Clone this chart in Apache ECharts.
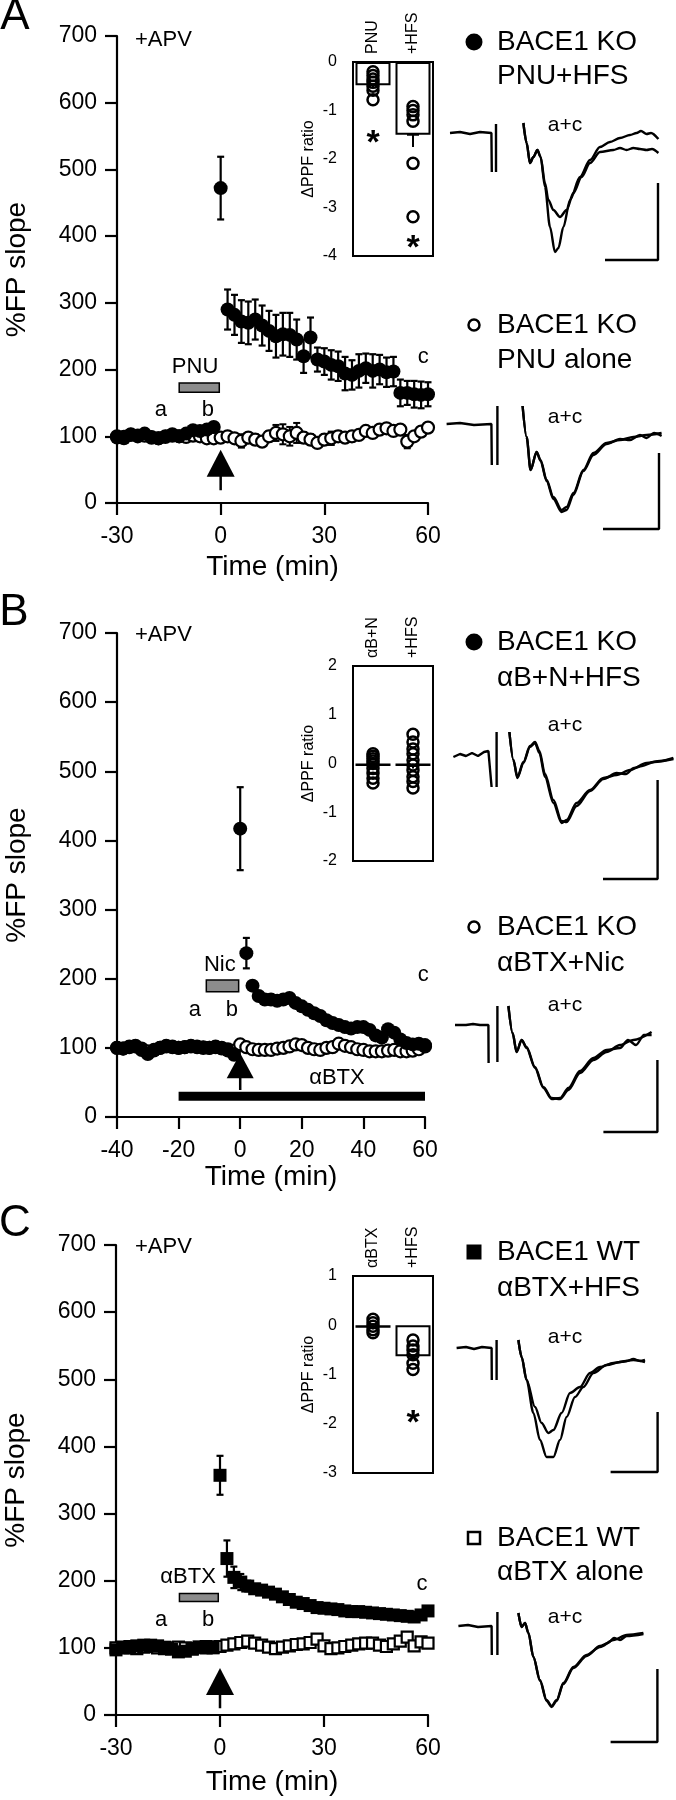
<!DOCTYPE html>
<html><head><meta charset="utf-8">
<script src="https://cdn.jsdelivr.net/npm/echarts@6.0.0/dist/echarts.min.js"></script>
<style>html,body{margin:0;padding:0;background:#fff}#c{width:676px;height:1800px}</style>
</head><body><div id="c"></div>
<script>
// ================= DATA =================
// Panel A (time in min, %FP slope)
const timeA = [-30,-28,-26,-24,-22,-20,-18,-16,-14,-12,-10,-8,-6,-4,-2,0,2,4,6,8,10,12,14,16,18,20,22,24,26,28,30,32,34,36,38,40,42,44,46,48,50,52,54,56,58,60];
const koPnuHfs = [98,97,103,101,104,99,97,100,103,100,104,109,108,110,114,472,290,282,272,270,275,266,258,250,253,252,245,220,248,215,212,207,205,194,192,198,202,198,200,196,197,165,165,163,162,163];
const koPnuHfsErr = [4,4,5,5,5,4,4,5,5,5,5,6,6,6,6,47,30,30,32,32,30,30,30,32,32,33,30,25,30,18,20,22,22,25,22,25,22,25,22,22,22,20,18,20,20,18];
const koPnuAlone = [100,99,102,100,101,98,97,99,101,100,99,101,100,97,97,98,100,97,93,98,95,92,100,105,103,100,105,98,95,90,95,97,100,98,100,102,108,105,110,112,108,110,92,100,107,113];
const koPnuAloneErr = [4,4,4,4,4,4,4,4,4,4,4,4,4,4,4,5,5,6,10,6,8,6,8,12,15,14,15,8,8,6,8,10,8,6,8,6,5,6,5,5,6,5,10,6,5,5];
// Panel B
const timeB = [-40,-38,-36,-34,-32,-30,-28,-26,-24,-22,-20,-18,-16,-14,-12,-10,-8,-6,-4,-2,0,2,4,6,8,10,12,14,16,18,20,22,24,26,28,30,32,34,36,38,40,42,44,46,48,50,52,54,56,58,60];
const koBtxNicHfs = [100,99,102,103,97,91,96,100,103,102,100,101,103,102,101,100,102,99,96,90,417,237,190,175,170,170,168,170,172,165,160,155,150,146,140,136,133,130,128,130,130,126,118,115,127,122,112,107,105,106,104];
const koBtxNicHfsErr = [3,3,3,3,3,3,3,3,3,3,3,3,3,3,3,3,3,3,3,3,60,22,5,4,4,4,4,4,4,4,4,4,4,4,4,4,4,4,4,4,4,4,4,4,4,4,4,4,4,4,4];
const koBtxNic = [100,99,101,102,99,95,97,100,102,101,100,101,102,101,100,100,101,100,98,96,105,101,98,97,97,97,99,100,102,105,104,100,98,97,100,101,106,103,101,98,97,95,95,95,96,97,95,95,96,98,102];
const koBtxNicErr = [3,3,3,3,3,3,3,3,3,3,3,3,3,3,3,3,3,3,3,3,3,3,3,3,3,3,3,3,3,3,3,3,3,3,3,3,3,3,3,3,3,3,3,3,3,3,3,3,3,3,3];
// Panel C
const timeC = [-30,-28,-26,-24,-22,-20,-18,-16,-14,-12,-10,-8,-6,-4,-2,0,2,4,6,8,10,12,14,16,18,20,22,24,26,28,30,32,34,36,38,40,42,44,46,48,50,52,54,56,58,60];
const wtBtxHfs = [97,100,102,103,104,104,103,101,98,94,95,98,101,102,100,357,233,205,198,192,188,186,183,180,176,172,168,166,163,160,159,158,157,155,154,154,153,152,151,150,149,148,147,146,149,155];
const wtBtxHfsErr = [3,3,3,3,3,3,3,3,3,3,3,3,3,3,3,29,27,16,12,8,5,4,4,4,4,4,4,4,4,4,4,4,4,4,4,4,4,4,4,4,4,4,4,4,4,4];
const wtBtxAlone = [100,101,100,99,101,102,100,99,100,101,100,99,101,100,101,102,104,106,108,110,107,104,101,99,101,103,105,106,108,113,103,99,100,102,104,106,107,107,104,102,106,110,116,103,109,107];
const wtBtxAloneErr = [3,3,3,3,3,3,3,3,3,3,3,3,3,3,3,3,3,3,3,3,3,3,3,3,3,3,3,3,3,3,3,3,3,3,3,3,3,3,3,3,3,3,3,3,3,3];

// Drug application (min)
const pnuBar = [-12, -0.4];
const nicBar = [-11, -0.5];
const btxShortBar = [-11.7, -0.5];
const btxLongBar = [-20, 60];
const hfsTime = 0;

// Inset ΔPPF ratio
const insetCatsA = ['PNU', '+HFS'];
const insetMeanA = [-0.48, -1.5];
const insetSemA = [0.05, 0.25];
const insetPtsA = [[-0.2,-0.28,-0.35,-0.42,-0.5,-0.58,-0.78],[-0.92,-1.0,-1.09,-1.22,-2.09,-3.19]];
const insetStarA = [-1.54, -3.7];
const insetCatsB = ['αB+N', '+HFS'];
const insetMeanB = [-0.05, -0.05];
const insetSemB = [0.05, 0.05];
const insetPtsB = [[0.2,0.15,0.1,0.05,0,-0.1,-0.2,-0.3,-0.4],[0.6,0.44,0.3,0.2,0.07,-0.03,-0.14,-0.27,-0.37,-0.5]];
const insetStarB = [null, null];
const insetCatsC = ['αBTX', '+HFS'];
const insetMeanC = [-0.05, -0.63];
const insetSemC = [0.03, 0.08];
const insetPtsC = [[0.12,0.05,-0.02,-0.09,-0.15],[-0.3,-0.42,-0.5,-0.6,-0.77,-0.9]];
const insetStarC = [null, -1.85];

// Field potential traces (ms, mV), "a" and "c" superimposed
const trA1pre = [[0,0],[0.5,0.01],[1.0,-0.01],[1.5,0.01],[2.07,0],[2.09,-0.39]];
const trA1art = [[2.3,0.09],[2.3,-0.39]];
const trA1a = [[3.67,0.10],[3.83,-0.10],[4.0,-0.30],[4.17,-0.24],[4.37,-0.17],[4.53,-0.24],[4.75,-0.54],[5.0,-0.94],[5.25,-1.19],[5.42,-1.15],[5.67,-0.94],[6.0,-0.67],[6.5,-0.44],[7.0,-0.27],[7.5,-0.14],[8.0,-0.09],[8.5,-0.05],[9.0,-0.02],[9.33,0.0],[9.55,0.02],[9.83,-0.01],[10.05,0.0],[10.42,-0.06]];
const trA1c = [[3.67,0.10],[3.83,-0.10],[4.0,-0.30],[4.17,-0.24],[4.37,-0.17],[4.53,-0.24],[4.75,-0.50],[4.92,-0.67],[5.17,-0.77],[5.5,-0.84],[5.83,-0.77],[6.17,-0.60],[6.58,-0.44],[7.0,-0.30],[7.5,-0.19],[8.17,-0.17],[8.5,-0.15],[8.83,-0.17],[9.17,-0.15],[9.5,-0.16],[9.83,-0.17],[10.1,-0.16],[10.42,-0.20]];
const trA1scale = [[7.75,-1.27],[10.4,-1.27],[10.4,-0.5]];
const trA2pre = [[-0.17,0],[0.5,0.01],[1.2,-0.01],[2.07,0],[2.09,-0.41]];
const trA2art = [[2.37,0.18],[2.37,-0.41]];
const trA2a = [[3.63,0.18],[3.83,-0.13],[4.03,-0.46],[4.33,-0.28],[4.53,-0.36],[4.83,-0.56],[5.17,-0.73],[5.58,-0.86],[5.83,-0.83],[6.17,-0.69],[6.67,-0.46],[7.17,-0.29],[7.83,-0.19],[8.5,-0.16],[9.17,-0.13],[9.83,-0.11],[10.58,-0.09]];
const trA2c = [[3.63,0.18],[3.83,-0.13],[4.03,-0.46],[4.33,-0.28],[4.53,-0.37],[4.83,-0.57],[5.17,-0.75],[5.58,-0.88],[5.83,-0.86],[6.17,-0.71],[6.67,-0.47],[7.17,-0.31],[7.83,-0.2],[8.5,-0.15],[9.0,-0.16],[9.5,-0.11],[9.83,-0.14],[10.2,-0.09],[10.58,-0.12]];
const trA2scale = [[7.65,-1.05],[10.45,-1.05],[10.45,-0.29]];
const trB1pre = [[0.17,-0.03],[0.5,0.0],[0.8,-0.02],[1.1,0.01],[1.4,-0.02],[1.7,0.02],[1.92,0.03],[2.08,-0.33]];
const trB1art = [[2.33,0.22],[2.33,-0.33]];
const trB1a = [[2.97,0.22],[3.17,-0.06],[3.37,-0.24],[3.67,-0.09],[4.0,0.07],[4.25,0.11],[4.47,0.01],[4.75,-0.23],[5.17,-0.49],[5.58,-0.69],[5.83,-0.66],[6.33,-0.49],[7.0,-0.36],[7.67,-0.24],[8.33,-0.21],[9.0,-0.16],[9.83,-0.09],[10.5,-0.07],[11.17,-0.04]];
const trB1c = [[2.97,0.22],[3.17,-0.06],[3.37,-0.23],[3.67,-0.08],[4.0,0.08],[4.25,0.12],[4.47,0.03],[4.75,-0.2],[5.17,-0.46],[5.58,-0.67],[5.83,-0.68],[6.33,-0.52],[7.0,-0.37],[7.67,-0.25],[8.33,-0.19],[8.8,-0.2],[9.2,-0.14],[9.6,-0.12],[10.2,-0.08],[11.17,-0.05]];
const trB1scale = [[7.65,-1.25],[10.38,-1.25],[10.38,-0.26]];
const trB2pre = [[0.25,0],[0.8,0.0],[1.15,0.01],[1.5,0.0],[1.92,0],[1.93,-0.38]];
const trB2art = [[2.37,0.19],[2.37,-0.37]];
const trB2a = [[2.92,0.19],[3.13,-0.08],[3.33,-0.27],[3.58,-0.15],[3.83,-0.22],[4.25,-0.42],[4.67,-0.62],[5.08,-0.73],[5.5,-0.74],[5.92,-0.65],[6.5,-0.48],[7.17,-0.35],[7.83,-0.27],[8.5,-0.2],[9.17,-0.15],[10.08,-0.07]];
const trB2c = [[2.92,0.19],[3.13,-0.08],[3.33,-0.27],[3.58,-0.15],[3.83,-0.23],[4.25,-0.43],[4.67,-0.63],[5.08,-0.74],[5.5,-0.73],[5.92,-0.63],[6.5,-0.46],[7.17,-0.33],[7.83,-0.25],[8.5,-0.23],[8.9,-0.15],[9.3,-0.2],[9.7,-0.1],[10.08,-0.1]];
const trB2scale = [[7.67,-1.07],[10.37,-1.07],[10.37,-0.35]];
const trC1pre = [[0.33,0],[0.8,0.01],[1.2,-0.01],[1.6,0.01],[2.08,0],[2.09,-0.32]];
const trC1art = [[2.33,0.08],[2.33,-0.32]];
const trC1a = [[3.42,0.08],[3.58,-0.09],[3.83,-0.32],[4.17,-0.65],[4.5,-0.92],[4.83,-1.09],[5.17,-1.09],[5.5,-0.92],[5.83,-0.69],[6.25,-0.49],[6.67,-0.39],[7.17,-0.25],[7.83,-0.17],[8.5,-0.14],[9.17,-0.12],[9.75,-0.14]];
const trC1c = [[3.42,0.08],[3.58,-0.09],[3.83,-0.32],[4.25,-0.59],[4.58,-0.75],[4.92,-0.85],[5.17,-0.82],[5.58,-0.65],[6.0,-0.45],[6.5,-0.39],[7.0,-0.25],[7.5,-0.19],[8.17,-0.15],[8.83,-0.13],[9.17,-0.11],[9.5,-0.13],[9.75,-0.12]];
const trC1scale = [[8.03,-1.24],[10.38,-1.24],[10.38,-0.64]];
const trC2pre = [[0.42,0],[0.9,0.01],[1.4,-0.01],[2.08,0],[2.09,-0.29]];
const trC2art = [[2.37,0.14],[2.37,-0.29]];
const trC2a = [[3.42,0.13],[3.58,-0.01],[3.75,0.03],[3.92,-0.07],[4.17,-0.31],[4.5,-0.54],[4.83,-0.74],[5.08,-0.8],[5.33,-0.74],[5.67,-0.57],[6.17,-0.41],[6.83,-0.29],[7.5,-0.21],[8.17,-0.14],[8.83,-0.09],[9.67,-0.07]];
const trC2c = [[3.42,0.13],[3.58,-0.01],[3.75,0.03],[3.92,-0.07],[4.17,-0.31],[4.5,-0.55],[4.83,-0.75],[5.08,-0.81],[5.33,-0.75],[5.67,-0.58],[6.17,-0.42],[6.83,-0.3],[7.5,-0.2],[7.9,-0.17],[8.2,-0.12],[8.5,-0.14],[8.83,-0.1],[9.67,-0.08]];
const trC2scale = [[8.03,-1.16],[10.37,-1.16],[10.37,-0.43]];

// ================= BUILD =================
const FONT = '"Liberation Sans", Arial, Helvetica, sans-serif';
const K = '#000';
const grids = [], xAxes = [], yAxes = [], series = [], graphics = [];
const zip = (xs, ys) => xs.map((x, i) => [x, ys[i]]);

function errBars(gi, data, cap, lw, z, onlyLow) {
  series.push({
    type: 'custom', xAxisIndex: gi, yAxisIndex: gi, z: z, silent: true, clip: false,
    data: data,
    renderItem: function (params, api) {
      const x = api.value(0);
      const lo = api.coord([x, api.value(1)]);
      const hi = api.coord([x, api.value(2)]);
      const w = cap / 2;
      const st = { stroke: K, lineWidth: lw };
      const ch = [
        { type: 'line', shape: { x1: lo[0], y1: lo[1], x2: hi[0], y2: hi[1] }, style: st },
        { type: 'line', shape: { x1: lo[0] - w, y1: lo[1], x2: lo[0] + w, y2: lo[1] }, style: st }
      ];
      if (!onlyLow) ch.push({ type: 'line', shape: { x1: hi[0] - w, y1: hi[1], x2: hi[0] + w, y2: hi[1] }, style: st });
      return { type: 'group', children: ch };
    }
  });
}

function labels(gi, items, size, weight, dy) {
  series.push({
    type: 'scatter', xAxisIndex: gi, yAxisIndex: gi, silent: true, z: 8,
    symbolSize: 1, itemStyle: { color: 'rgba(0,0,0,0)', opacity: 1 },
    data: items.map(d => ({ value: [d[0], d[1]], label: { formatter: d[2] } })),
    label: { show: true, position: 'inside', fontSize: size, fontWeight: weight || 'normal', color: K, opacity: 1,
      fontFamily: FONT, offset: [0, dy || 0] }
  });
}

function mainPanel(p) {
  const gi = grids.length;
  grids.push({ left: p.left, top: p.top, width: p.width, height: p.height, containLabel: false, outerBoundsMode: 'none' });
  xAxes.push({
    gridIndex: gi, type: 'value', min: p.xmin, max: p.xmax, interval: p.xint,
    name: 'Time (min)', nameLocation: 'middle', nameGap: p.xgap,
    nameTextStyle: { fontSize: 28, color: K, fontFamily: FONT },
    axisLine: { onZero: false, lineStyle: { color: K, width: 2.2 } },
    axisTick: { length: 12, lineStyle: { color: K, width: 2.2 } },
    axisLabel: { fontSize: 23, color: K, margin: 22, fontFamily: FONT },
    splitLine: { show: false }
  });
  yAxes.push({
    gridIndex: gi, type: 'value', min: 0, max: 700, interval: 100,
    name: '%FP slope', nameLocation: 'middle', nameGap: 86,
    nameTextStyle: { fontSize: 28, color: K, fontFamily: FONT },
    axisLine: { onZero: false, lineStyle: { color: K, width: 2.2 } },
    axisTick: { length: 12, lineStyle: { color: K, width: 2.2 } },
    axisLabel: { fontSize: 23, color: K, margin: 20, fontFamily: FONT },
    splitLine: { show: false }
  });
  // control (open)
  errBars(gi, p.t.map((x, i) => [x, p.yo[i] - p.eo[i], p.yo[i] + p.eo[i]]), 7, 2, 2, false);
  series.push({ type: 'scatter', xAxisIndex: gi, yAxisIndex: gi, silent: true, z: 3,
    data: zip(p.t, p.yo), symbol: p.sym, symbolSize: p.openSize,
    itemStyle: { color: '#fff', borderColor: K, borderWidth: 2.2, opacity: 1 } });
  // treatment (filled)
  errBars(gi, p.t.map((x, i) => [x, p.yf[i] - p.ef[i], p.yf[i] + p.ef[i]]), 7, 2.2, 4, false);
  series.push({ type: 'scatter', xAxisIndex: gi, yAxisIndex: gi, silent: true, z: 5,
    data: zip(p.t, p.yf), symbol: p.sym, symbolSize: p.fillSize,
    itemStyle: { color: K, opacity: 1 } });
  // drug bar (grey)
  series.push({ type: 'line', xAxisIndex: gi, yAxisIndex: gi, data: [], silent: true,
    markArea: { silent: true, itemStyle: { color: '#8c8c8c', borderColor: K, borderWidth: 1.5, opacity: 1 },
      data: [[{ coord: [p.drug[0], p.drugY[0]] }, { coord: [p.drug[1], p.drugY[1]] }]] } });
  // HFS arrow
  series.push({ type: 'line', xAxisIndex: gi, yAxisIndex: gi, silent: true, z: 6, symbol: 'none',
    data: [[hfsTime, p.arrow[0]], [hfsTime, p.arrow[1]]], lineStyle: { color: K, width: 2.5 } });
  series.push({ type: 'scatter', xAxisIndex: gi, yAxisIndex: gi, silent: true, z: 6,
    symbol: 'triangle', symbolSize: p.triSize, data: [[hfsTime, p.arrow[2]]], itemStyle: { color: K, opacity: 1 } });
  if (p.longBar) {
    series.push({ type: 'line', xAxisIndex: gi, yAxisIndex: gi, silent: true, z: 6, symbol: 'none',
      data: [[p.longBar[0], p.longBarY], [p.longBar[1], p.longBarY]], lineStyle: { color: K, width: 9, cap: 'butt' } });
  }
  labels(gi, p.ann, 22);
  return gi;
}

function inset(p) {
  const gi = grids.length;
  grids.push({ left: 353, top: p.top, width: 80, height: p.height, show: true, borderColor: K, borderWidth: 2,
    backgroundColor: 'rgba(0,0,0,0)', containLabel: false, outerBoundsMode: 'none' });
  xAxes.push({ gridIndex: gi, type: 'category', data: p.cats, position: 'top',
    axisLine: { show: false }, axisTick: { show: false },
    axisLabel: { rotate: 90, fontSize: 16, margin: 8, color: K, fontFamily: FONT }, splitLine: { show: false } });
  yAxes.push({ gridIndex: gi, type: 'value', min: p.ymin, max: p.ymax, interval: 1,
    name: 'ΔPPF ratio', nameLocation: 'middle', nameGap: 36,
    nameTextStyle: { fontSize: 16, color: K, fontFamily: FONT },
    axisLine: { onZero: false, lineStyle: { color: K, width: 2 } },
    axisTick: { length: 12, lineStyle: { color: K, width: 2 } },
    axisLabel: { fontSize: 16, color: K, margin: 16, fontFamily: FONT }, splitLine: { show: false } });
  series.push({ type: 'bar', xAxisIndex: gi, yAxisIndex: gi, silent: true, z: 2, data: p.mean, barWidth: 35,
    itemStyle: { color: '#fff', borderColor: K, borderWidth: 2, opacity: 1 } });
  errBars(gi, p.mean.map((m, i) => [i, m, m - p.sem[i]]), 12, 2, 3, true);
  const pts = [];
  p.pts.forEach((arr, ci) => arr.forEach(v => pts.push([ci, v])));
  series.push({ type: 'scatter', xAxisIndex: gi, yAxisIndex: gi, silent: true, z: 4, data: pts,
    symbolSize: 11, itemStyle: { color: 'rgba(255,255,255,0)', borderColor: K, borderWidth: 2.5, opacity: 1 } });
  const stars = [];
  p.star.forEach((v, ci) => { if (v !== null) stars.push([ci, v, '*']); });
  labels(gi, stars, 34, 'bold', 7);
}

function trace(p) {
  const gi = grids.length;
  grids.push({ left: 440, top: p.top, width: 240, height: p.height, containLabel: false, outerBoundsMode: 'none' });
  xAxes.push({ gridIndex: gi, type: 'value', min: -0.5, max: 11.5, show: false });
  yAxes.push({ gridIndex: gi, type: 'value', min: p.ymin, max: p.ymax, show: false });
  [[p.pre, 0], [p.art, 0], [p.a, 0.3], [p.c, 0.3], [p.scale, 0]].forEach(([d, sm]) => {
    series.push({ type: 'line', xAxisIndex: gi, yAxisIndex: gi, silent: true, symbol: 'none', clip: false,
      data: d, smooth: sm, smoothMonotone: sm ? 'x' : undefined, lineStyle: { color: K, width: 2.4 } });
  });
}

// ---- Panel A ----
mainPanel({ left: 117, top: 36, width: 311, height: 467, xmin: -30, xmax: 60, xint: 30, xgap: 50,
  t: timeA, yf: koPnuHfs, ef: koPnuHfsErr, yo: koPnuAlone, eo: koPnuAloneErr,
  sym: 'circle', fillSize: 14, openSize: 12,
  drug: pnuBar, drugY: [166, 180], arrow: [19, 42, 59.5], triSize: [28, 27],
  ann: [[-7.4, 204, 'PNU'], [-17.3, 139, 'a'], [-3.7, 139, 'b'], [58.6, 219, 'c']] });
inset({ top: 62, height: 194, ymin: -4, ymax: 0, cats: insetCatsA, mean: insetMeanA, sem: insetSemA, pts: insetPtsA, star: insetStarA });
trace({ top: 103, height: 170, ymin: -1.4, ymax: 0.3, pre: trA1pre, art: trA1art, a: trA1a, c: trA1c, scale: trA1scale });
trace({ top: 394, height: 150, ymin: -1.2, ymax: 0.3, pre: trA2pre, art: trA2art, a: trA2a, c: trA2c, scale: trA2scale });

// ---- Panel B ----
mainPanel({ left: 117, top: 633, width: 308, height: 484, xmin: -40, xmax: 60, xint: 20, xgap: 46,
  t: timeB, yf: koBtxNicHfs, ef: koBtxNicHfsErr, yo: koBtxNic, eo: koBtxNicErr,
  sym: 'circle', fillSize: 14, openSize: 12,
  drug: nicBar, drugY: [181, 198], arrow: [39, 62, 74], triSize: [27, 25],
  longBar: btxLongBar, longBarY: 30,
  ann: [[-6.6, 220, 'Nic'], [-14.7, 155, 'a'], [-2.7, 155, 'b'], [59.4, 205, 'c'], [31.4, 56, 'αBTX']] });
inset({ top: 666, height: 195, ymin: -2, ymax: 2, cats: insetCatsB, mean: insetMeanB, sem: insetSemB, pts: insetPtsB, star: insetStarB });
trace({ top: 714, height: 180, ymin: -1.4, ymax: 0.4, pre: trB1pre, art: trB1art, a: trB1a, c: trB1c, scale: trB1scale });
trace({ top: 985, height: 160, ymin: -1.2, ymax: 0.4, pre: trB2pre, art: trB2art, a: trB2a, c: trB2c, scale: trB2scale });

// ---- Panel C ----
mainPanel({ left: 116, top: 1245, width: 312, height: 470, xmin: -30, xmax: 60, xint: 30, xgap: 53,
  t: timeC, yf: wtBtxHfs, ef: wtBtxHfsErr, yo: wtBtxAlone, eo: wtBtxAloneErr,
  sym: 'rect', fillSize: 13, openSize: 11,
  drug: btxShortBar, drugY: [169, 181], arrow: [10, 32, 50], triSize: [28, 27],
  ann: [[-9.2, 205.5, 'αBTX'], [-17, 141.5, 'a'], [-3.4, 141.5, 'b'], [58.3, 195, 'c']] });
inset({ top: 1276, height: 197, ymin: -3, ymax: 1, cats: insetCatsC, mean: insetMeanC, sem: insetSemC, pts: insetPtsC, star: insetStarC });
trace({ top: 1318, height: 170, ymin: -1.4, ymax: 0.3, pre: trC1pre, art: trC1art, a: trC1a, c: trC1c, scale: trC1scale });
trace({ top: 1596, height: 160, ymin: -1.3, ymax: 0.3, pre: trC2pre, art: trC2art, a: trC2a, c: trC2c, scale: trC2scale });

// ---- Text & legends ----
function txt(s, x, y, size, align) {
  graphics.push({ type: 'text', x: x, y: y, silent: true, z: 10,
    style: { text: s, fontSize: size, fontFamily: FONT, fill: K, align: align || 'left', verticalAlign: 'middle' } });
}
function legend(marker, y1, y2, l1, l2) {
  const cx = 474;
  if (marker === 'fc') graphics.push({ type: 'circle', shape: { cx: cx, cy: y1, r: 8.5 }, style: { fill: K } });
  if (marker === 'oc') graphics.push({ type: 'circle', shape: { cx: cx, cy: y1, r: 5.5 }, style: { fill: '#fff', stroke: K, lineWidth: 2.5 } });
  if (marker === 'fs') graphics.push({ type: 'rect', shape: { x: cx - 7.5, y: y1 - 7.5, width: 15, height: 15 }, style: { fill: K } });
  if (marker === 'os') graphics.push({ type: 'rect', shape: { x: cx - 6, y: y1 - 6, width: 12, height: 12 }, style: { fill: '#fff', stroke: K, lineWidth: 2.5 } });
  txt(l1, 497, y1, 28);
  txt(l2, 497, y2, 28);
}
txt('A', 15, 17, 44, 'center');
txt('B', 14, 613, 44, 'center');
txt('C', 15, 1224, 44, 'center');
txt('+APV', 135, 40, 22);
txt('+APV', 135, 635, 22);
txt('+APV', 135, 1247, 22);
legend('fc', 42, 76, 'BACE1 KO', 'PNU+HFS');
legend('oc', 325, 360, 'BACE1 KO', 'PNU alone');
legend('fc', 642, 678, 'BACE1 KO', 'αB+N+HFS');
legend('oc', 927, 963, 'BACE1 KO', 'αBTX+Nic');
legend('fs', 1252, 1288, 'BACE1 WT', 'αBTX+HFS');
legend('os', 1538, 1572, 'BACE1 WT', 'αBTX alone');
[125, 417, 725, 1005, 1337, 1617].forEach(y => txt('a+c', 565, y, 21, 'center'));

const chart = echarts.init(document.getElementById('c'), null, { renderer: 'canvas', width: 676, height: 1800 });
chart.setOption({
  animation: false, backgroundColor: '#fff', textStyle: { fontFamily: FONT },
  grid: grids, xAxis: xAxes, yAxis: yAxes, series: series, graphic: graphics
});
</script></body></html>
